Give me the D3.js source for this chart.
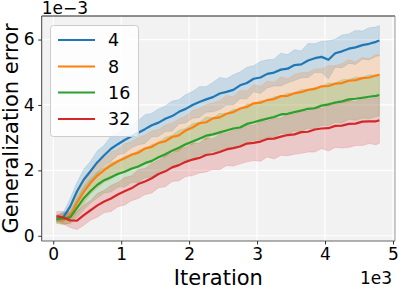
<!DOCTYPE html>
<html>
<head>
<meta charset="utf-8">
<script src="https://cdn.jsdelivr.net/npm/d3@7"></script>
<style>
  html, body { margin: 0; padding: 0; background: #ffffff; }
  svg { display: block; }
  text { font-family: "DejaVu Sans", sans-serif; fill: #000; }
</style>
</head>
<body>
<svg id="chart" width="399" height="289"></svg>
<script>
// ---------------- data ----------------
const iterations = [50,150,250,350,450,550,650,750,850,950,1050,1150,1250,1350,1450,1550,1650,1750,1850,1950,
  2050,2150,2250,2350,2450,2550,2650,2750,2850,2950,3050,3150,3250,3350,3450,3550,3650,3750,3850,3950,
  4050,4150,4250,4350,4450,4550,4650,4750,4800];

const seriesNames = ["4", "8", "16", "32"];

// mean generalization error (x 1e-3)
const mean4  = [0.52,0.57,0.90,1.36,1.72,1.98,2.25,2.46,2.66,2.80,2.93,3.04,3.15,3.26,3.38,3.46,3.58,3.66,3.79,3.88,
  4.00,4.09,4.17,4.24,4.35,4.40,4.46,4.60,4.67,4.80,4.84,4.95,4.99,5.08,5.11,5.22,5.24,5.36,5.43,5.47,
  5.38,5.58,5.64,5.72,5.76,5.83,5.87,5.93,5.97];
const mean8  = [0.50,0.49,0.62,1.01,1.34,1.62,1.84,2.01,2.15,2.28,2.37,2.48,2.54,2.67,2.72,2.84,2.89,3.02,3.07,3.22,
  3.31,3.44,3.47,3.59,3.62,3.73,3.78,3.89,3.94,4.05,4.07,4.15,4.18,4.27,4.28,4.36,4.39,4.46,4.49,4.57,
  4.58,4.65,4.67,4.74,4.76,4.82,4.84,4.90,4.92];
const mean16 = [0.50,0.53,0.56,0.85,1.15,1.37,1.56,1.70,1.79,1.89,1.96,2.05,2.12,2.22,2.29,2.40,2.49,2.60,2.69,2.80,
  2.88,2.97,3.06,3.10,3.16,3.22,3.28,3.31,3.42,3.47,3.53,3.58,3.63,3.71,3.73,3.78,3.83,3.88,3.90,3.98,
  4.02,4.07,4.11,4.17,4.19,4.22,4.25,4.28,4.30];
const mean32 = [0.60,0.55,0.47,0.46,0.63,0.78,0.93,1.05,1.14,1.26,1.36,1.45,1.58,1.66,1.76,1.89,1.97,2.09,2.16,2.26,
  2.33,2.38,2.47,2.50,2.56,2.64,2.68,2.73,2.82,2.84,2.88,2.96,2.97,3.03,3.08,3.10,3.17,3.18,3.25,3.28,
  3.29,3.36,3.37,3.42,3.43,3.49,3.50,3.50,3.53];

// band half-width (std, x 1e-3)
const std4  = [0.10,0.15,0.24,0.27,0.32,0.30,0.35,0.31,0.38,0.33,0.41,0.35,0.37,0.44,0.36,0.42,0.39,0.46,0.37,0.43,
  0.41,0.47,0.39,0.45,0.49,0.40,0.46,0.41,0.48,0.40,0.49,0.43,0.41,0.50,0.43,0.47,0.41,0.52,0.44,0.48,
  0.58,0.43,0.50,0.45,0.52,0.43,0.49,0.45,0.46];
const std8  = [0.12,0.16,0.21,0.31,0.35,0.34,0.38,0.37,0.42,0.36,0.44,0.39,0.46,0.40,0.48,0.41,0.49,0.43,0.50,0.44,
  0.52,0.45,0.54,0.47,0.51,0.56,0.47,0.55,0.49,0.57,0.50,0.58,0.51,0.59,0.52,0.57,0.60,0.53,0.61,0.54,
  0.62,0.55,0.60,0.64,0.56,0.63,0.58,0.64,0.61];
const std16 = [0.12,0.17,0.20,0.29,0.35,0.37,0.40,0.39,0.45,0.40,0.47,0.42,0.49,0.44,0.50,0.45,0.52,0.47,0.54,0.48,
  0.55,0.50,0.57,0.51,0.58,0.52,0.59,0.54,0.61,0.55,0.60,0.56,0.62,0.57,0.63,0.58,0.64,0.59,0.63,0.60,
  0.65,0.60,0.66,0.61,0.66,0.62,0.67,0.63,0.64];
const std32 = [0.14,0.19,0.22,0.27,0.31,0.30,0.36,0.34,0.40,0.37,0.42,0.38,0.44,0.40,0.45,0.42,0.47,0.43,0.48,0.45,
  0.49,0.46,0.52,0.47,0.54,0.49,0.55,0.53,0.56,0.54,0.60,0.55,0.62,0.57,0.63,0.61,0.65,0.62,0.69,0.61,
  0.70,0.66,0.69,0.72,0.67,0.73,0.68,0.72,0.70];

const colors = ["#1f77b4", "#ff7f0e", "#2ca02c", "#d62728"];
const xTicks = [0, 1000, 2000, 3000, 4000, 5000];
const yTicks = [0, 2, 4, 6];

const means = [mean4, mean8, mean16, mean32];
const stds = [std4, std8, std16, std32];

// ---------------- layout ----------------
const svg = d3.select("#chart");
const L = 41.7, R = 395, T = 16, B = 241;

const x = d3.scaleLinear().domain([-170, 5030]).range([L, R]);
const y = d3.scaleLinear().domain([-0.16, 6.72]).range([B, T]);

// background
svg.append("rect").attr("x", L).attr("y", T).attr("width", R - L).attr("height", B - T)
  .attr("fill", "#f2f2f2");

// grid
const grid = svg.append("g");
grid.selectAll(".gx").data(xTicks).join("line")
  .attr("x1", d => x(d)).attr("x2", d => x(d)).attr("y1", T).attr("y2", B)
  .attr("stroke", "#ffffff").attr("stroke-width", 1.2);
grid.selectAll(".gy").data(yTicks).join("line")
  .attr("y1", d => y(d)).attr("y2", d => y(d)).attr("x1", L).attr("x2", R)
  .attr("stroke", "#ffffff").attr("stroke-width", 1.2);

// bands
const plot = svg.append("g");
const area = d3.area()
  .x(d => x(d.it)).y0(d => y(d.m - d.s)).y1(d => y(d.m + d.s));
const line = d3.line().x(d => x(d.it)).y(d => y(d.m));

const rows = means.map((m, k) => iterations.map((it, i) => ({ it, m: m[i], s: stds[k][i] })));

rows.forEach((r, k) => {
  plot.append("path").datum(r).attr("d", area)
    .attr("fill", colors[k]).attr("fill-opacity", 0.2)
    .attr("stroke", colors[k]).attr("stroke-opacity", 0.2).attr("stroke-width", 0.8);
});
rows.forEach((r, k) => {
  plot.append("path").datum(r).attr("d", line)
    .attr("fill", "none").attr("stroke", colors[k]).attr("stroke-width", 2.2)
    .attr("stroke-linejoin", "round");
});

// spines
svg.append("line").attr("x1", L).attr("x2", R).attr("y1", T).attr("y2", T).attr("stroke", "#222").attr("stroke-width", 1);
svg.append("line").attr("x1", R).attr("x2", R).attr("y1", T).attr("y2", B).attr("stroke", "#999").attr("stroke-width", 1);
svg.append("line").attr("x1", L).attr("x2", L).attr("y1", T).attr("y2", B).attr("stroke", "#444").attr("stroke-width", 1);
svg.append("line").attr("x1", L).attr("x2", R).attr("y1", B).attr("y2", B).attr("stroke", "#666").attr("stroke-width", 1);

// axes
const xAxis = d3.axisBottom(x).tickValues(xTicks).tickFormat(d => d / 1000).tickSizeOuter(0).tickSize(3.5).tickPadding(3);
const gx = svg.append("g").attr("transform", `translate(0,${B})`).call(xAxis);
gx.select(".domain").remove();
gx.selectAll(".tick line").attr("stroke", "#333");
gx.selectAll(".tick text").attr("font-size", 17).attr("font-family", "DejaVu Sans").attr("fill", "#000");

const yAxis = d3.axisLeft(y).tickValues(yTicks).tickFormat(d => d).tickSizeOuter(0).tickSize(3.5).tickPadding(3.5);
const gy = svg.append("g").attr("transform", `translate(${L},0)`).call(yAxis);
gy.select(".domain").remove();
gy.selectAll(".tick line").attr("stroke", "#333");
gy.selectAll(".tick text").attr("font-size", 17).attr("font-family", "DejaVu Sans").attr("fill", "#000");

// offset labels
svg.append("text").attr("x", L).attr("y", 14).attr("font-size", 17).text("1e\u22123");
svg.append("text").attr("x", 392).attr("y", 284).attr("font-size", 17).attr("text-anchor", "end").text("1e3");

// axis labels
svg.append("text").attr("x", (L + R) / 2).attr("y", 285).attr("font-size", 21)
  .attr("text-anchor", "middle").text("Iteration");
svg.append("text").attr("transform", `translate(18,${(T + B) / 2}) rotate(-90)`)
  .attr("font-size", 21).attr("text-anchor", "middle").text("Generalization error");

// legend
const lg = svg.append("g");
lg.append("rect").attr("x", 50.5).attr("y", 25.5).attr("width", 88).attr("height", 111).attr("rx", 3)
  .attr("fill", "#ffffff").attr("fill-opacity", 0.8).attr("stroke", "#cccccc").attr("stroke-width", 1);
const lgY = [40, 66.5, 92.5, 119];
seriesNames.forEach((n, k) => {
  lg.append("line").attr("x1", 58).attr("x2", 95).attr("y1", lgY[k]).attr("y2", lgY[k])
    .attr("stroke", colors[k]).attr("stroke-width", 2);
  lg.append("text").attr("x", 108).attr("y", lgY[k] + 6.3).attr("font-size", 17.5).text(n);
});
</script>
</body>
</html>
